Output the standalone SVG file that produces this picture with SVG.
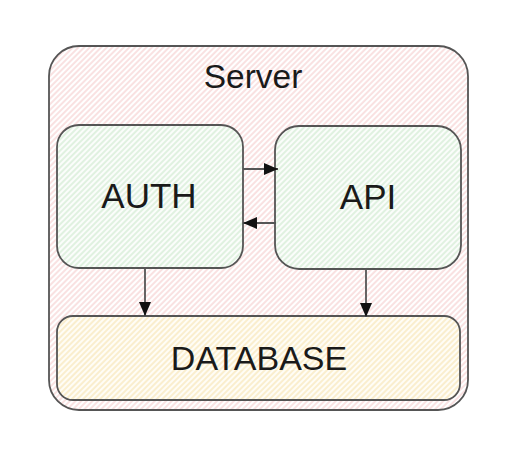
<svg xmlns="http://www.w3.org/2000/svg" width="521" height="450" viewBox="0 0 521 450">
<defs>
<pattern id="hPink" width="4" height="4" patternUnits="userSpaceOnUse" patternTransform="rotate(45)"><line x1="1" y1="0" x2="1" y2="4" stroke="#f3c4c4" stroke-width="1"/></pattern>
<pattern id="hGreen" width="4" height="4" patternUnits="userSpaceOnUse" patternTransform="rotate(45)"><rect width="4" height="4" fill="#fbfdfb"/><line x1="1" y1="0" x2="1" y2="4" stroke="#c6e6c6" stroke-width="1"/></pattern>
<pattern id="hYellow" width="4" height="4" patternUnits="userSpaceOnUse" patternTransform="rotate(45)"><rect width="4" height="4" fill="#fffdf6"/><line x1="1" y1="0" x2="1" y2="4" stroke="#f6e0a6" stroke-width="1"/></pattern>
<marker id="arr" viewBox="0 0 14 12" refX="14" refY="6" markerWidth="14" markerHeight="12" orient="auto" markerUnits="userSpaceOnUse"><path d="M0,0 L14,6 L0,12 z" fill="#111"/></marker>
</defs>
<style>
.box{stroke:#555;stroke-width:1.8}
.lbl{font-family:"Liberation Sans",Arial,sans-serif;fill:#1a1a1a;text-anchor:middle}
.edge{stroke:#555;stroke-width:1.8;fill:none;marker-end:url(#arr)}
</style>
<rect width="521" height="450" fill="#fff"/>
<g id="server">
<rect class="box" x="49" y="46" width="419" height="364" rx="30" fill="url(#hPink)"/>
<text class="lbl" x="253" y="88" font-size="33.5">Server</text>
</g>
<g id="auth">
<rect class="box" x="57" y="125" width="186" height="143" rx="22" fill="url(#hGreen)"/>
<text class="lbl" x="149" y="208" font-size="35">AUTH</text>
</g>
<g id="api">
<rect class="box" x="275" y="126" width="186" height="143" rx="24" fill="url(#hGreen)"/>
<text class="lbl" x="368" y="209" font-size="35">API</text>
</g>
<g id="database">
<rect class="box" x="57" y="316" width="403" height="84" rx="16" fill="url(#hYellow)"/>
<text class="lbl" x="259" y="370" font-size="34">DATABASE</text>
</g>
<g id="connectors">
<line class="edge" x1="243" y1="169" x2="278" y2="169"/>
<line class="edge" x1="276" y1="223" x2="243" y2="223"/>
<line class="edge" x1="145" y1="268" x2="145" y2="316"/>
<line class="edge" x1="366" y1="269" x2="366" y2="317"/>
</g>
</svg>
